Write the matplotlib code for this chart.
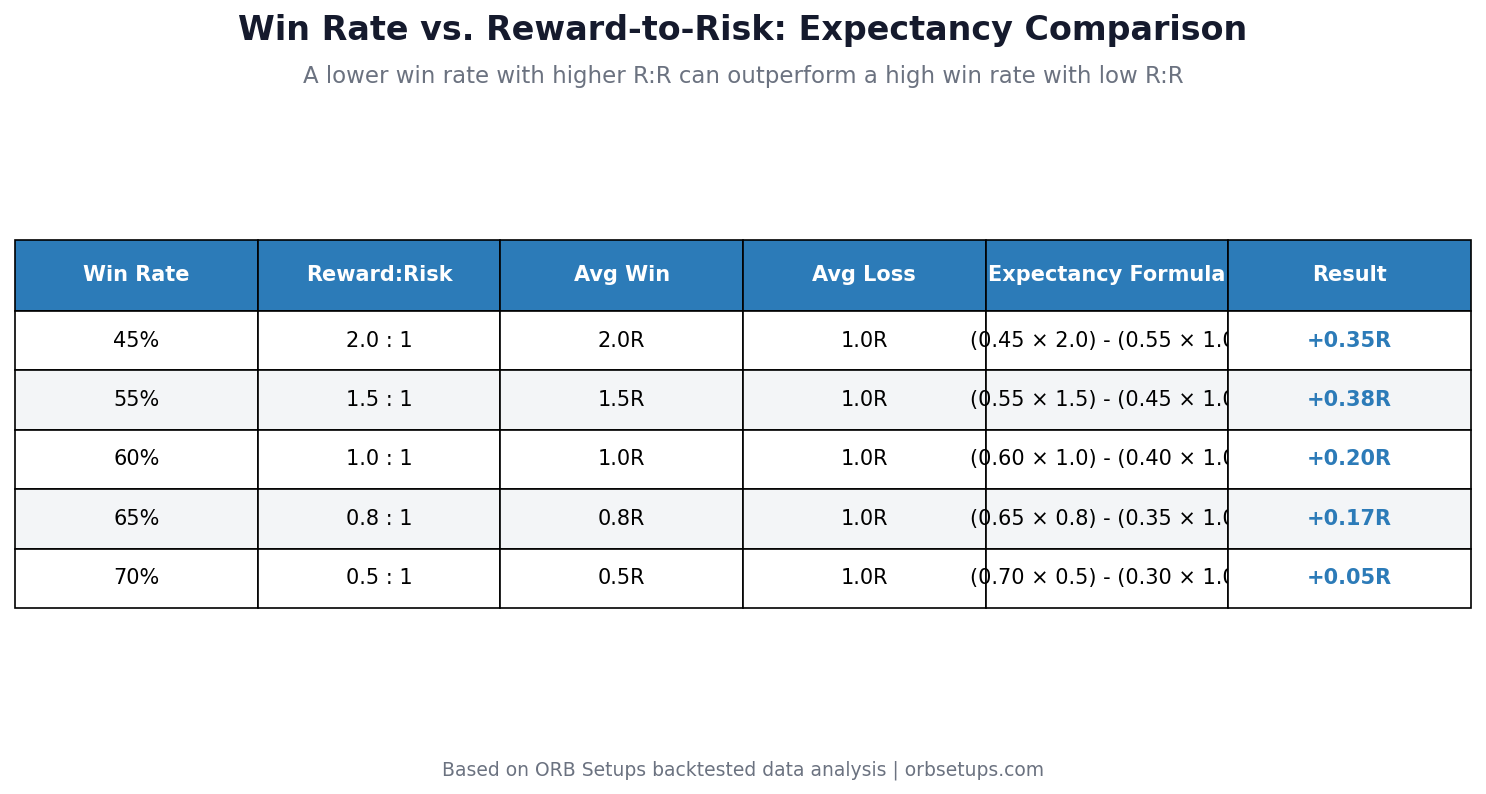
import matplotlib.pyplot as plt

columns = ["Win Rate", "Reward:Risk", "Avg Win", "Avg Loss", "Expectancy Formula", "Result"]
win_rates = [0.45, 0.55, 0.60, 0.65, 0.70]
reward_risk = [2.0, 1.5, 1.0, 0.8, 0.5]
avg_loss = [1.0, 1.0, 1.0, 1.0, 1.0]

header_color = "#2c7bb8"
alt_color = "#f3f5f7"

rows = []
for w, rr, lo in zip(win_rates, reward_risk, avg_loss):
    exp = w * rr - (1 - w) * lo
    rows.append([
        f"{w*100:.0f}%",
        f"{rr:.1f} : 1",
        f"{rr:.1f}R",
        f"{lo:.1f}R",
        f"({w:.2f} × {rr:.1f}) - ({1-w:.2f} × {lo:.1f})",
        f"{exp:+.2f}R",
    ])

fig = plt.figure(figsize=(14.86, 7.94), dpi=100)
ax = fig.add_axes([0, 0, 1, 1])
ax.axis("off")

fig.text(0.5, 0.962, "Win Rate vs. Reward-to-Risk: Expectancy Comparison",
         ha="center", va="center", fontsize=24, fontweight="bold", color="#151a2d")
fig.text(0.5, 0.904, "A lower win rate with higher R:R can outperform a high win rate with low R:R",
         ha="center", va="center", fontsize=16.5, color="#6b7280")
fig.text(0.5, 0.030, "Based on ORB Setups backtested data analysis | orbsetups.com",
         ha="center", va="center", fontsize=13.5, color="#6b7280")

top, bottom = 1 - 240 / 794, 1 - 608 / 794
tbl = ax.table(cellText=rows, colLabels=columns, cellLoc="center",
               bbox=[15 / 1486, bottom, (1471 - 15) / 1486, top - bottom])
tbl.auto_set_font_size(False)
tbl.set_fontsize(15)

total_h = top - bottom
head_h = total_h * 71 / 368
row_h = (total_h - head_h) / len(rows)
for (r, c), cell in tbl.get_celld().items():
    cell.set_edgecolor("black")
    cell.set_linewidth(1.2)
    if r == 0:
        cell.set_height(head_h)
        cell.set_facecolor(header_color)
        cell.get_text().set_color("white")
        cell.get_text().set_fontweight("bold")
    else:
        cell.set_height(row_h)
        cell.set_facecolor(alt_color if r % 2 == 0 else "white")
        if c == 5:
            cell.get_text().set_color(header_color)
            cell.get_text().set_fontweight("bold")

fig.savefig("out.png", dpi=100)
